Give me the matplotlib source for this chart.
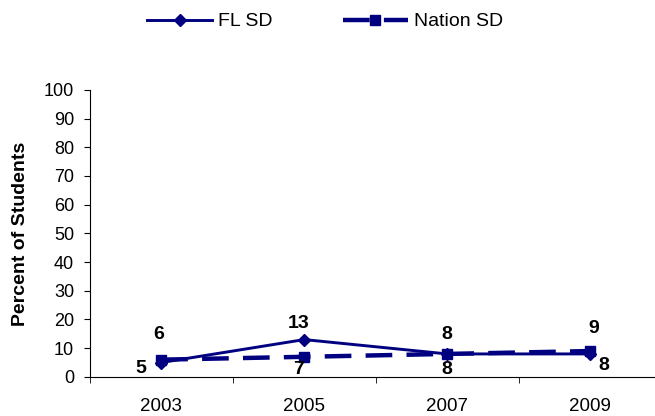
import matplotlib
matplotlib.use("Agg")
import matplotlib.pyplot as plt

plt.rcParams['font.family'] = ['Liberation Sans', 'DejaVu Sans']

years = ["2003", "2005", "2007", "2009"]
fl_sd = [5, 13, 8, 8]
nation_sd = [6, 7, 8, 9]
# data label offsets in points
fl_offsets = [(-15, -4.5), (-4, 11.5), (0, -11.5), (10, -8)]
nation_offsets = [(-2, 18), (-4, -9.5), (0, 13.7), (3, 16)]

navy = "#000080"

fig = plt.figure(figsize=(6.55, 4.16), dpi=100)
ax = fig.add_axes([0.137, 0.094, 0.873, 0.69])

x = range(len(years))
ax.plot(x, fl_sd, color=navy, lw=2.1, marker="D", ms=6, label="FL SD")
ax.plot(x, nation_sd, color=navy, lw=3.2, ls=(0, (6, 3.2)), marker="s", ms=6.5,
        label="Nation SD")

for i, v in enumerate(fl_sd):
    ax.annotate(str(v), (i, v), xytext=fl_offsets[i], textcoords="offset points",
                ha="center", va="center", fontsize=14, fontweight="bold")
for i, v in enumerate(nation_sd):
    ax.annotate(str(v), (i, v), xytext=nation_offsets[i], textcoords="offset points",
                ha="center", va="center", fontsize=14, fontweight="bold")

ax.set_xlim(-0.5, 3.5)
ax.set_ylim(0, 100)
ax.set_yticks(range(0, 101, 10))
ax.set_xticks(list(x))
ax.set_xticklabels(years)
ax.set_xticks([-0.5, 0.5, 1.5, 2.5], minor=True)
ax.tick_params(axis="x", which="major", length=0, pad=15, labelsize=13.5)
ax.tick_params(axis="x", which="minor", length=4.5, direction="out")
ax.tick_params(axis="y", length=4.3, direction="out", pad=7, labelsize=13)
for s in ["top", "right"]:
    ax.spines[s].set_visible(False)
ax.set_ylabel("Percent of Students", fontsize=14, fontweight="bold", labelpad=11)

fig.legend(loc="center", bbox_to_anchor=(0.496, 0.948), ncol=2, frameon=False,
           fontsize=14, handlelength=3.35, handletextpad=0.3, columnspacing=3.6)

fig.savefig("out.png", dpi=100)
